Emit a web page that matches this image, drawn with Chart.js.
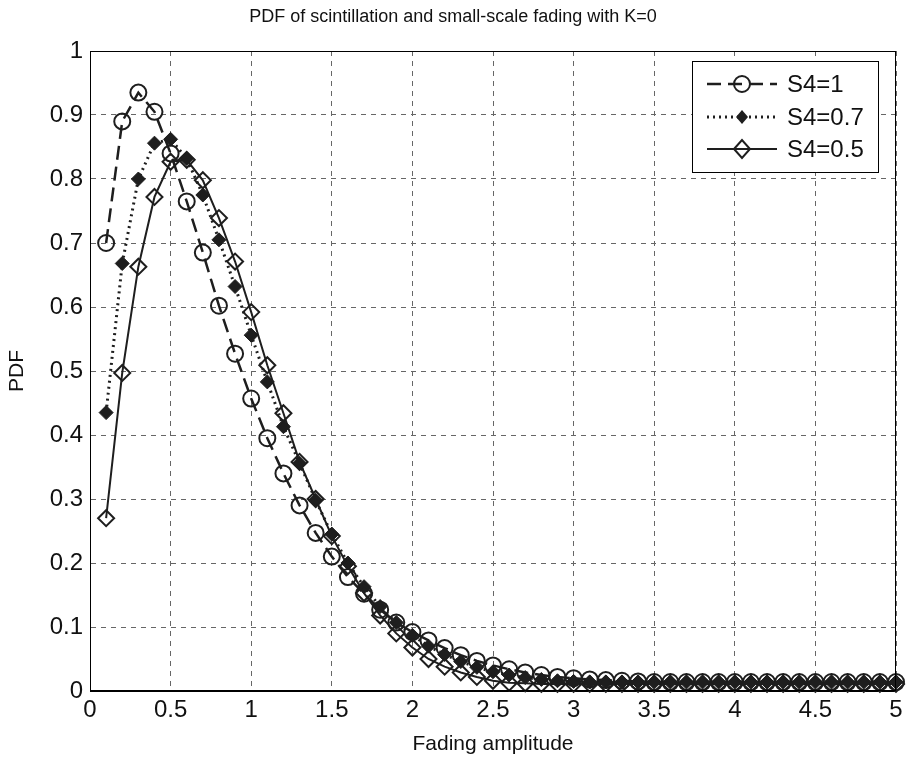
<!DOCTYPE html>
<html>
<head>
<meta charset="utf-8">
<title>PDF of scintillation and small-scale fading</title>
<script src="https://cdn.jsdelivr.net/npm/chart.js@4.4.1/dist/chart.umd.min.js"></script>
<style>
  html, body { margin: 0; padding: 0; background: #ffffff; }
  #caixa { width: 906px; height: 757px; }
</style>
</head>
<body>
<div id="caixa"><canvas id="grafico" width="906" height="757"></canvas></div>
<script>
/* valores */

var amplitudes = [
  0.1, 0.2, 0.3, 0.4, 0.5, 0.6, 0.7, 0.8, 0.9, 1.0,
  1.1, 1.2, 1.3, 1.4, 1.5, 1.6, 1.7, 1.8, 1.9, 2.0,
  2.1, 2.2, 2.3, 2.4, 2.5, 2.6, 2.7, 2.8, 2.9, 3.0,
  3.1, 3.2, 3.3, 3.4, 3.5, 3.6, 3.7, 3.8, 3.9, 4.0,
  4.1, 4.2, 4.3, 4.4, 4.5, 4.6, 4.7, 4.8, 4.9, 5.0
];

var pdfS4_1 = [
  0.700, 0.890, 0.935, 0.905, 0.840, 0.765, 0.685, 0.602, 0.527, 0.457,
  0.395, 0.340, 0.290, 0.247, 0.210, 0.178, 0.152, 0.127, 0.107, 0.092,
  0.079, 0.067, 0.056, 0.047, 0.040, 0.034, 0.029, 0.025, 0.022, 0.020,
  0.018, 0.017, 0.016, 0.015, 0.014, 0.014, 0.014, 0.014, 0.014, 0.014,
  0.014, 0.014, 0.014, 0.014, 0.014, 0.014, 0.014, 0.014, 0.014, 0.014
];

var pdfS4_07 = [
  0.435, 0.668, 0.800, 0.856, 0.862, 0.832, 0.775, 0.705, 0.632, 0.556,
  0.483, 0.413, 0.356, 0.298, 0.245, 0.200, 0.163, 0.132, 0.107, 0.087,
  0.070, 0.057, 0.046, 0.037, 0.030, 0.025, 0.021, 0.018, 0.016, 0.015,
  0.014, 0.014, 0.014, 0.014, 0.014, 0.014, 0.014, 0.014, 0.014, 0.014,
  0.014, 0.014, 0.014, 0.014, 0.014, 0.014, 0.014, 0.014, 0.014, 0.014
];

var pdfS4_05 = [
  0.270, 0.497, 0.663, 0.772, 0.827, 0.830, 0.798, 0.739, 0.671, 0.592,
  0.509, 0.434, 0.358, 0.300, 0.242, 0.195, 0.153, 0.118, 0.090, 0.068,
  0.050, 0.038, 0.029, 0.022, 0.016, 0.013, 0.012, 0.011, 0.011, 0.011,
  0.011, 0.011, 0.011, 0.011, 0.011, 0.011, 0.011, 0.011, 0.011, 0.011,
  0.011, 0.011, 0.011, 0.011, 0.011, 0.011, 0.011, 0.011, 0.011, 0.011
];

var nomesSeries = ["S4=1", "S4=0.7", "S4=0.5"];
var ticksX = [0, 0.5, 1, 1.5, 2, 2.5, 3, 3.5, 4, 4.5, 5];
var ticksY = [0, 0.1, 0.2, 0.3, 0.4, 0.5, 0.6, 0.7, 0.8, 0.9, 1];

var corLinha = "#1e1e1e";
var fonte = "'Liberation Sans', Arial, sans-serif";

function montarPontos(valores) {
  var pontos = [];
  for (var i = 0; i < amplitudes.length; i++) {
    pontos.push({ x: amplitudes[i], y: valores[i] });
  }
  return pontos;
}

// moldura completa (MATLAB fecha a caixa em cima e a direita)
var pluginMoldura = {
  id: "moldura",
  afterDatasetsDraw: function (chart) {
    var a = chart.chartArea;
    var ctx = chart.ctx;
    ctx.save();
    ctx.strokeStyle = "#000";
    ctx.lineWidth = 1;
    ctx.setLineDash([]);
    ctx.strokeRect(a.left + 0.5, a.top + 0.5, a.right - a.left - 1, a.bottom - a.top - 1);
    ctx.restore();
  }
};

function desenharMarcador(ctx, tipo, x, y) {
  ctx.save();
  ctx.setLineDash([]);
  ctx.strokeStyle = corLinha;
  ctx.fillStyle = corLinha;
  ctx.lineWidth = 2;
  ctx.beginPath();
  if (tipo == "circle") {
    ctx.arc(x, y, 8, 0, Math.PI * 2);
    ctx.stroke();
  } else if (tipo == "estrela") {
    ctx.moveTo(x - 6, y); ctx.lineTo(x, y - 7); ctx.lineTo(x + 6, y); ctx.lineTo(x, y + 7);
    ctx.closePath();
    ctx.fill();
  } else {
    ctx.moveTo(x - 8, y); ctx.lineTo(x, y - 9); ctx.lineTo(x + 8, y); ctx.lineTo(x, y + 9);
    ctx.closePath();
    ctx.stroke();
  }
  ctx.restore();
}

// legenda dentro da area do grafico, canto superior direito
var pluginLegenda = {
  id: "legendaInterna",
  afterDraw: function (chart) {
    var ctx = chart.ctx;
    var caixaX = 692, caixaY = 61, caixaL = 186, caixaA = 111;
    ctx.save();
    ctx.fillStyle = "#fff";
    ctx.fillRect(caixaX, caixaY, caixaL, caixaA);
    ctx.strokeStyle = "#000";
    ctx.lineWidth = 1;
    ctx.strokeRect(caixaX + 0.5, caixaY + 0.5, caixaL, caixaA);

    var linhasY = [84, 117, 149];
    var tipos = ["circle", "estrela", "diamante"];
    for (var i = 0; i < chart.data.datasets.length; i++) {
      var ds = chart.data.datasets[i];
      ctx.strokeStyle = corLinha;
      ctx.lineWidth = ds.borderWidth;
      ctx.setLineDash(ds.borderDash || []);
      ctx.beginPath();
      ctx.moveTo(707, linhasY[i]);
      ctx.lineTo(777, linhasY[i]);
      ctx.stroke();
      desenharMarcador(ctx, tipos[i], 742, linhasY[i]);

      ctx.fillStyle = "#111";
      ctx.font = "24px " + fonte;
      ctx.textBaseline = "middle";
      ctx.textAlign = "left";
      ctx.fillText(ds.label, 787, linhasY[i] + 1);
    }
    ctx.restore();
  }
};

var contexto = document.getElementById("grafico").getContext("2d");
var grafico = new Chart(contexto, {
  type: "line",
  data: {
    datasets: [
      {
        label: nomesSeries[0],
        data: montarPontos(pdfS4_1),
        borderColor: corLinha,
        borderWidth: 2.5,
        borderDash: [14, 7],
        pointStyle: "circle",
        pointRadius: 8,
        pointBorderWidth: 2,
        pointBorderColor: corLinha,
        pointBackgroundColor: "rgba(255,255,255,0)",
        order: 2
      },
      {
        label: nomesSeries[1],
        data: montarPontos(pdfS4_07),
        borderColor: corLinha,
        borderWidth: 3,
        borderDash: [2, 4],
        pointStyle: "rectRot",
        pointRadius: 7,
        pointBorderWidth: 1,
        pointBorderColor: corLinha,
        pointBackgroundColor: corLinha,
        order: 1
      },
      {
        label: nomesSeries[2],
        data: montarPontos(pdfS4_05),
        borderColor: corLinha,
        borderWidth: 2,
        pointStyle: "rectRot",
        pointRadius: 8,
        pointBorderWidth: 2,
        pointBorderColor: corLinha,
        pointBackgroundColor: "rgba(255,255,255,0)",
        order: 0
      }
    ]
  },
  options: {
    responsive: false,
    animation: false,
    clip: false,
    layout: { padding: { left: 0, right: 0, top: 0, bottom: 0 } },
    plugins: {
      legend: { display: false },
      tooltip: { enabled: false },
      title: {
        display: true,
        text: "PDF of scintillation and small-scale fading with K=0",
        color: "#111",
        font: { family: fonte, size: 18, weight: "normal" },
        padding: { top: 6, bottom: 23.4 }
      }
    },
    scales: {
      x: {
        type: "linear",
        min: 0,
        max: 5,
        afterBuildTicks: function (eixo) {
          eixo.ticks = ticksX.map(function (v) { return { value: v }; });
        },
        afterFit: function (eixo) {
          eixo.height = 66;
          eixo.paddingLeft = 0;
          eixo.paddingRight = 0;
        },
        ticks: {
          color: "#111",
          padding: 5,
          maxRotation: 0,
          font: { family: fonte, size: 24 },
          callback: function (v) { return String(v); }
        },
        grid: { color: "#666", lineWidth: 1, drawTicks: false },
        border: { display: true, color: "#000", dash: [5, 5] },
        title: {
          display: true,
          text: "Fading amplitude",
          color: "#111",
          font: { family: fonte, size: 21 },
          padding: { top: 0, bottom: 0 }
        }
      },
      y: {
        type: "linear",
        min: 0,
        max: 1,
        afterBuildTicks: function (eixo) {
          eixo.ticks = ticksY.map(function (v) { return { value: v }; });
        },
        afterFit: function (eixo) {
          eixo.width = 90;
          eixo.paddingTop = 0;
          eixo.paddingBottom = 0;
        },
        ticks: {
          color: "#111",
          padding: 7,
          font: { family: fonte, size: 24 },
          callback: function (v) { return String(v); }
        },
        grid: { color: "#666", lineWidth: 1, drawTicks: false },
        border: { display: true, color: "#000", dash: [5, 5] },
        title: {
          display: true,
          text: "PDF",
          color: "#111",
          font: { family: fonte, size: 21 },
          padding: { top: 5, bottom: 0 }
        }
      }
    }
  },
  plugins: [pluginMoldura, pluginLegenda]
});
</script>
</body>
</html>
